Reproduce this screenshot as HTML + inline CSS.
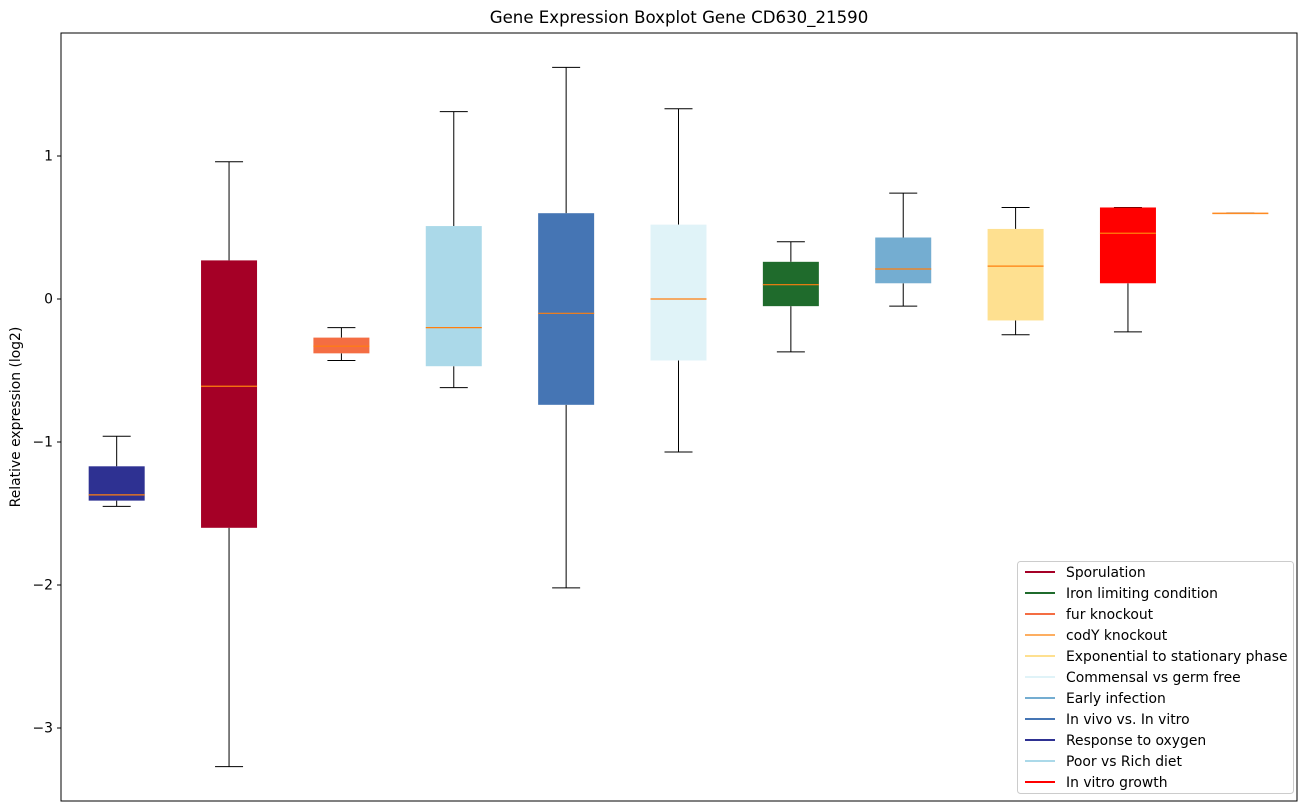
<!DOCTYPE html>
<html><head><meta charset="utf-8"><style>
html,body{margin:0;padding:0;background:#fff;}
svg{display:block;font-family:"DejaVu Sans","Liberation Sans",sans-serif;}
</style></head><body>
<svg id="chart" width="1309" height="812">
<text x="679" y="23" text-anchor="middle" font-size="16.6">Gene Expression Boxplot Gene CD630_21590</text>
<g id="plot"></g>
<text transform="translate(20,417) rotate(-90)" text-anchor="middle" font-size="13.9">Relative expression (log2)</text>
</svg>
<script>
const categories = ["Response to oxygen","Sporulation","fur knockout","Poor vs Rich diet","In vivo vs. In vitro","Commensal vs germ free","Iron limiting condition","Early infection","Exponential to stationary phase","In vitro growth","codY knockout"];
const whiskerHigh = [-0.96, 0.96, -0.20, 1.31, 1.62, 1.33, 0.40, 0.74, 0.64, 0.64, 0.60];
const q3Values = [-1.17, 0.27, -0.27, 0.51, 0.60, 0.52, 0.26, 0.43, 0.49, 0.64, 0.60];
const medianValues = [-1.37, -0.61, -0.33, -0.20, -0.10, 0.00, 0.10, 0.21, 0.23, 0.46, 0.60];
const q1Values = [-1.41, -1.60, -0.38, -0.47, -0.74, -0.43, -0.05, 0.11, -0.15, 0.11, 0.60];
const whiskerLow = [-1.45, -3.27, -0.43, -0.62, -2.02, -1.07, -0.37, -0.05, -0.25, -0.23, 0.60];
const boxColors = ["#2e3192","#a50026","#f46d43","#abd9e9","#4575b4","#e0f3f8","#1f6b2c","#74add1","#fee090","#ff0000","#fdae61"];
const yTicks = [1, 0, -1, -2, -3];
const yTickLabels = ["1","0","\u22121","\u22122","\u22123"];
const legendLabels = ["Sporulation","Iron limiting condition","fur knockout","codY knockout","Exponential to stationary phase","Commensal vs germ free","Early infection","In vivo vs. In vitro","Response to oxygen","Poor vs Rich diet","In vitro growth"];
const legendColors = ["#a50026","#1f6b2c","#f46d43","#fdae61","#fee090","#e0f3f8","#74add1","#4575b4","#2e3192","#abd9e9","#ff0000"];

const NS="http://www.w3.org/2000/svg";
const g=document.getElementById('plot');
const L=61,R=1297,T=33,B=801;
const y=v=>299-143*v;
const step=(R-L)/categories.length;
const xc=i=>L+step*(i+0.5)-0.5;
const bw=56;
function mk(t,a,p){const e=document.createElementNS(NS,t);for(const k in a)e.setAttribute(k,a[k]);(p||g).appendChild(e);return e;}

yTicks.forEach((v,i)=>{
  const tk=mk('line',{x1:L-4,x2:L,y1:y(v),y2:y(v),stroke:'#000'});
  
  
  const tx=mk('text',{x:L-8,y:y(v)+4.5,'text-anchor':'end','font-size':13.9});
  tx.textContent=yTickLabels[i];
  
  
});

categories.forEach((c,i)=>{
  const x=xc(i);
  const grp=mk('g',{});
  
  
  mk('line',{x1:x,x2:x,y1:y(whiskerHigh[i]),y2:y(q3Values[i]),stroke:'#000'},grp);
  mk('line',{x1:x,x2:x,y1:y(q1Values[i]),y2:y(whiskerLow[i]),stroke:'#000'},grp);
  mk('line',{x1:x-14,x2:x+14,y1:y(whiskerHigh[i]),y2:y(whiskerHigh[i]),stroke:'#000'},grp);
  mk('line',{x1:x-14,x2:x+14,y1:y(whiskerLow[i]),y2:y(whiskerLow[i]),stroke:'#000'},grp);
  const h=Math.max(1,y(q1Values[i])-y(q3Values[i]));
  mk('rect',{x:x-bw/2,y:y(q3Values[i]),width:bw,height:h,fill:boxColors[i]},grp);
  mk('line',{x1:x-bw/2,x2:x+bw/2,y1:y(medianValues[i]),y2:y(medianValues[i]),stroke:'#ff7f0e','stroke-width':1.2},grp);
});

mk('rect',{x:L,y:T,width:R-L,height:B-T,fill:'none',stroke:'#000'});

const lg=mk('g',{});


mk('rect',{x:1017.5,y:561.5,width:276,height:232,rx:3,fill:'#fff','fill-opacity':0.85,stroke:'#ccc'},lg);
legendLabels.forEach((l,i)=>{
  const yy=572+i*21;
  const e=mk('g',{},lg);
  
  
  mk('line',{x1:1025,x2:1055,y1:yy,y2:yy,stroke:legendColors[i],'stroke-width':2},e);
  const t=mk('text',{x:1066,y:yy+5,'font-size':13.9},e);
  t.textContent=l;
});
</script>
</body></html>
